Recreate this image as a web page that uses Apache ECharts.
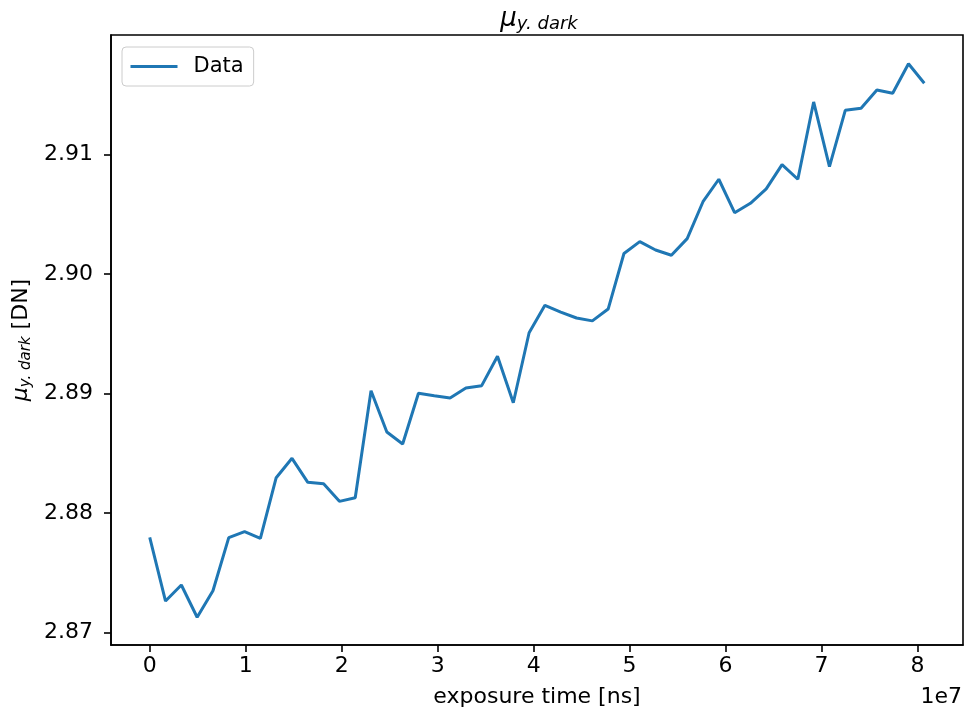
<!DOCTYPE html>
<html>
<head>
<meta charset="utf-8">
<script src="https://cdn.jsdelivr.net/npm/echarts@6/dist/echarts.min.js"></script>
<style>
html,body{margin:0;padding:0;background:#fff;}
#chart{width:966px;height:716px;}
</style>
</head>
<body>
<div id="chart"></div>
<script>
// exposure time [ns]
const exposureTime = [0, 1647000, 3294000, 4941000, 6588000, 8235000, 9882000, 11529000, 13176000, 14823000,
  16470000, 18117000, 19764000, 21411000, 23058000, 24705000, 26352000, 27999000, 29646000, 31293000,
  32940000, 34587000, 36234000, 37881000, 39528000, 41175000, 42822000, 44469000, 46116000, 47763000,
  49410000, 51057000, 52704000, 54351000, 55998000, 57645000, 59292000, 60939000, 62586000, 64233000,
  65880000, 67527000, 69174000, 70821000, 72468000, 74115000, 75762000, 77409000, 79056000, 80703000];
// mu_y.dark [DN]
const muDark = [2.87795, 2.87262, 2.87396, 2.87126, 2.87348, 2.87792, 2.87842, 2.87787, 2.88294, 2.88456,
  2.88255, 2.88244, 2.88096, 2.88126, 2.89022, 2.88676, 2.88576, 2.89000, 2.88980, 2.88961,
  2.89044, 2.89064, 2.89310, 2.88921, 2.89507, 2.89736, 2.89680, 2.89630, 2.89606, 2.89705,
  2.90170, 2.90269, 2.90199, 2.90155, 2.90294, 2.90603, 2.90791, 2.90511, 2.90590, 2.90710,
  2.90913, 2.90791, 2.91438, 2.90896, 2.91368, 2.91385, 2.91538, 2.91510, 2.91758, 2.91594];
const xTicks = [0, 1e7, 2e7, 3e7, 4e7, 5e7, 6e7, 7e7, 8e7];
const yTicks = [2.87, 2.88, 2.89, 2.90, 2.91];
const seriesName = 'Data';

const FONT = 'DejaVu Sans';
const FS = 22;
const chart = echarts.init(document.getElementById('chart'), null, {renderer: 'canvas'});
const data = exposureTime.map((t, i) => [t, muDark[i]]);

chart.setOption({
  animation: false,
  backgroundColor: '#fff',
  title: {
    text: '{mu|μ}{sub|y. dark}',
    left: 534,
    textAlign: 'center',
    top: 0,
    textStyle: {
      fontWeight: 'normal',
      rich: {
        mu: {fontFamily: FONT, fontStyle: 'italic', fontWeight: 'normal', fontSize: 26, color: '#000'},
        sub: {fontFamily: FONT, fontStyle: 'italic', fontWeight: 'normal', fontSize: 18, color: '#000', verticalAlign: 'bottom', padding: [10, 0, 0, 0]}
      }
    }
  },
  legend: {
    left: 122, top: 47,
    padding: [9, 10, 9, 7],
    itemWidth: 47, itemHeight: 21,
    borderColor: '#cccccc', borderWidth: 1, borderRadius: 4,
    backgroundColor: 'rgba(255,255,255,0.8)',
    itemStyle: {opacity: 0},
    lineStyle: {color: '#1f77b4', width: 3},
    textStyle: {fontFamily: FONT, fontSize: 21, color: '#000', padding: [0, 0, 0, 11]},
    data: [seriesName]
  },
  grid: {left: 111, right: 3, top: 35, bottom: 71, show: true, borderColor: '#000', borderWidth: 1.6, backgroundColor: 'transparent'},
  xAxis: {
    type: 'value',
    min: -4035000, max: 84735000,
    name: 'exposure time [ns]',
    nameLocation: 'middle',
    nameGap: 41,
    nameTextStyle: {fontFamily: FONT, fontSize: FS, color: '#000'},
    splitLine: {show: false},
    axisLine: {show: true, onZero: false, lineStyle: {color: '#000', width: 1.6}},
    axisTick: {show: true, customValues: xTicks, length: 7, lineStyle: {color: '#000', width: 1.6}},
    axisLabel: {customValues: xTicks, margin: 10, fontFamily: FONT, fontSize: FS, color: '#000',
      formatter: v => String(Math.round(v / 1e7))}
  },
  yAxis: {
    type: 'value',
    min: 2.86894, max: 2.91998,
    name: '{mu|μ}{sub|y. dark} [DN]',
    nameLocation: 'middle',
    nameGap: 76,
    nameRotate: 90,
    nameTextStyle: {
      fontFamily: FONT, fontSize: FS, color: '#000',
      rich: {
        mu: {fontFamily: FONT, fontStyle: 'italic', fontSize: FS, color: '#000'},
        sub: {fontFamily: FONT, fontStyle: 'italic', fontSize: 15, color: '#000', verticalAlign: 'bottom', padding: [8, 0, 0, 0]}
      }
    },
    splitLine: {show: false},
    axisLine: {show: true, onZero: false, lineStyle: {color: '#000', width: 1.6}},
    axisTick: {show: true, customValues: yTicks, length: 7, lineStyle: {color: '#000', width: 1.6}},
    axisLabel: {customValues: yTicks, margin: 18, fontFamily: FONT, fontSize: FS, color: '#000',
      formatter: v => v.toFixed(2)}
  },
  graphic: [{
    type: 'text',
    right: 4, top: 686,
    style: {text: '1e7', fontFamily: FONT, fontSize: FS, fill: '#000'}
  }],
  series: [{
    name: seriesName,
    type: 'line',
    data: data,
    symbol: 'none',
    lineStyle: {color: '#1f77b4', width: 3},
    itemStyle: {color: '#1f77b4'}
  }]
});
</script>
</body>
</html>
